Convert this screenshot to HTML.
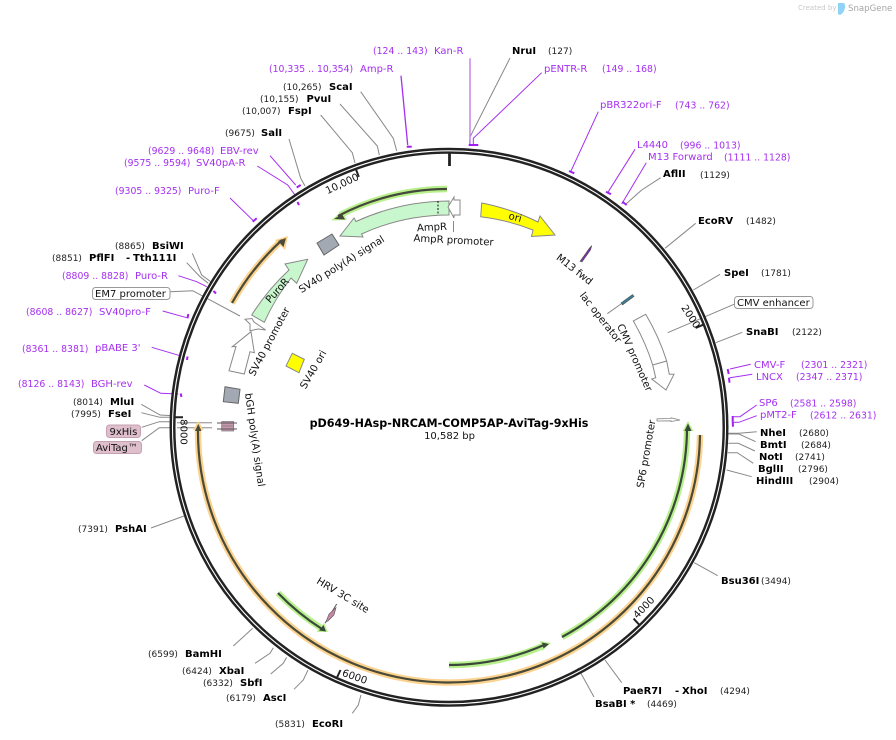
<!DOCTYPE html>
<html><head><meta charset="utf-8">
<style>
html,body{margin:0;padding:0;background:#fff;width:896px;height:740px;overflow:hidden}
svg{display:block;font-family:"DejaVu Sans",sans-serif}
.b{font-weight:bold;font-size:10px;fill:#000}
.n{font-size:9px;fill:#222}
.p{font-size:10px;fill:#a52ff0}
.r{font-size:9.3px;fill:#a52ff0}
.f{font-size:10px;fill:#111}
.c{text-anchor:middle;dominant-baseline:central;font-size:10.1px;fill:#111}
.g{fill:none;stroke:#888;stroke-width:1}
.v{fill:none;stroke:#a52ff0;stroke-width:1}
.vt{fill:none;stroke:#a020f0;stroke-width:2}
</style></head><body>
<svg width="896" height="740" viewBox="0 0 896 740" xmlns="http://www.w3.org/2000/svg">
<text x="798" y="10" font-size="7" fill="#c8c8c8">Created by</text>
<path d="M838 3h5c2 0 2 2 2 4c0 4-3 7-5 8l-2-1z" fill="#8fd3f7"/>
<text x="848" y="11" font-size="8.6" fill="#a5a5a5">SnapGene</text>

<!-- leaders grey -->
<g class="g">
<polyline points="510,58 470,137 469.5,145"/>
<polyline points="360.7,91.7 393.3,138.3 396.7,151"/>
<polyline points="340,104 377.3,146 379.3,155"/>
<polyline points="320.7,115 352.3,152.7 355,163"/>
<polyline points="289,139 300.7,178.3 305,186"/>
<polyline points="660.7,177.7 641.7,190 626,204"/>
<polyline points="695.7,223.3 665,248.3"/>
<polyline points="720,274.3 693.3,290"/>
<polyline points="734,304.3 667.7,332.7"/>
<polyline points="742.3,332.3 715.7,342.7"/>
<polyline points="756.7,431.7 739,433.3 728.3,433.3"/>
<polyline points="755.7,441.7 739,434 728.3,434"/>
<polyline points="755,451 738.3,443.3 728.3,443.3"/>
<polyline points="753.3,463.3 737.3,452.7 727.7,452.7"/>
<polyline points="751.7,476.7 726.7,470"/>
<polyline points="717.7,575.7 694.3,562.7"/>
<polyline points="621.7,682.7 605,660"/>
<polyline points="594,697 578,668"/>
<polyline points="352.3,713.3 358.3,705 361,695"/>
<polyline points="294,689.3 303.3,680 308,670"/>
<polyline points="270.7,674 283.3,663.3 286.7,657.3"/>
<polyline points="255,663.3 270,653.3 273.3,647.7"/>
<polyline points="233.3,646 252.7,628.3"/>
<polyline points="151,528 184,516"/>
<polyline points="192.3,253.3 201.7,275 210.7,281.7"/>
<polyline points="186.7,262.7 200,276.7 208.3,283.3"/>
<polyline points="170,291.7 192.7,290.7 240,316"/>
<polyline points="141.3,404.3 160,415 173.3,415.7"/>
<polyline points="141.3,412.7 160,417.3 175,417.3"/>
<polyline points="141.7,427.3 159.3,421.7 170,421.7"/>
<polyline points="141.7,440.7 159.3,427.7 170,427.7"/>
<line x1="177" y1="422.7" x2="212" y2="422.7" stroke="#aaa" stroke-width="1.4"/>
<line x1="177" y1="427.7" x2="212" y2="427.7" stroke="#aaa" stroke-width="1.4"/>
<polyline points="607.3,313.7 621,304"/>
<polyline points="336.7,604 325,623.3" stroke="#555"/>
<polyline points="591.7,245.7 580,261.7" stroke="#555"/>
<line x1="453.5" y1="221" x2="453.5" y2="232"/>
</g>

<!-- leaders purple -->
<g class="v">
<polyline points="470,58.3 470,145" stroke-width="1.4" stroke="#c37cf0"/>
<polyline points="541.7,72.7 473.3,138.3 473.3,145"/>
<polyline points="401,75.7 407.7,145" stroke-width="1.3"/>
<polyline points="270,155.7 295.7,185"/>
<polyline points="257.3,166 287.7,185 295,195"/>
<polyline points="230,198 253.3,220.7"/>
<polyline points="598.3,111.7 570.7,171.7"/>
<polyline points="635,149.3 607.7,192.7"/>
<polyline points="646.3,162.7 621.7,204"/>
<polyline points="750.7,364.3 730,369"/>
<polyline points="752.3,374.3 730,377.7"/>
<polyline points="756.7,405 740,416.7 733.3,416.7"/>
<polyline points="756.7,415.7 739,422.3 733.3,422.3"/>
<polyline points="178.3,275.7 196.7,281.7 206.7,286.7"/>
<polyline points="162.7,311 186.7,317.7"/>
<polyline points="151.7,347.3 180,355.7"/>
<polyline points="144.3,385 160.7,393.3 178.3,394"/>
</g>
<g class="vt">
<line x1="468.7" y1="145" x2="478.3" y2="145"/>
<line x1="406.7" y1="146.7" x2="411.7" y2="146.7"/>
<line x1="296.7" y1="187.5" x2="300.7" y2="185"/>
<line x1="297.5" y1="202" x2="299" y2="205"/>
<line x1="252.7" y1="221.7" x2="256.7" y2="218.3"/>
<line x1="569" y1="171" x2="574.3" y2="173.3"/>
<line x1="606" y1="191.7" x2="611" y2="194.3"/>
<line x1="622.3" y1="201.7" x2="626.7" y2="205"/>
<line x1="727.7" y1="369" x2="728.7" y2="374"/>
<line x1="729" y1="377.7" x2="729.5" y2="382.7"/>
<line x1="732.7" y1="416" x2="732.7" y2="421.7"/>
<line x1="732.7" y1="421.7" x2="733" y2="426.7"/>
<line x1="213.5" y1="291" x2="216" y2="293.5"/>
<line x1="188.3" y1="314" x2="187.5" y2="318.3"/>
<line x1="187.5" y1="356.5" x2="187" y2="360"/>
<line x1="180.7" y1="393.5" x2="181.5" y2="397"/>
</g>

<!-- backbone -->
<circle cx="449" cy="427.3" r="276.5" fill="none" stroke="#222" stroke-width="6"/>
<circle cx="449" cy="427.3" r="276.5" fill="none" stroke="#fff" stroke-width="1.1"/>
<g stroke="#222" stroke-width="2" fill="none">
<line x1="449.5" y1="153" x2="449.5" y2="166" stroke-width="2.8"/>
<line x1="703" y1="324.8" x2="695.6" y2="327.9"/>
<line x1="639" y1="624.5" x2="633.6" y2="618.6"/>
<line x1="337" y1="677.5" x2="340.5" y2="670"/>
<line x1="175" y1="417.2" x2="183" y2="417.3"/>
<line x1="356" y1="169.5" x2="358.8" y2="176.9"/>
</g>
<text class="c" transform="translate(342.5,184.5) rotate(-25)">10,000</text>
<text class="c" transform="translate(690,317) rotate(57)">2000</text>
<text class="c" transform="translate(644.5,608) rotate(-46)">4000</text>
<text class="c" transform="translate(354.5,677.5) rotate(19)">6000</text>
<text class="c" transform="translate(183,432) rotate(90)">8000</text>

<!-- arcs -->
<g fill="none" stroke-linecap="butt">
<path d="M700 435A251 251 0 1 1 198 428" stroke="#fbd28e" stroke-width="6.4"/>
<path d="M232 303A251 251 0 0 1 281 241" stroke="#fbd28e" stroke-width="6.4"/>
<path d="M447 189A238 238 0 0 0 340 215" stroke="#b8f08c" stroke-width="6.4"/>
<path d="M562 637A238 238 0 0 0 687 429" stroke="#b8f08c" stroke-width="6.4"/>
<path d="M449 665A238 238 0 0 0 543 646" stroke="#b8f08c" stroke-width="6.4"/>
<path d="M278 593A238 238 0 0 0 321 628" stroke="#b8f08c" stroke-width="6.4"/>
</g>
<polygon points="198.3,421 193,430 203.5,430" fill="#fbd28e"/>
<polygon points="288,236 275,240 285,250" fill="#fbd28e"/>
<polygon points="331,220.5 342,211 347,220" fill="#b8f08c"/>
<polygon points="688,421 682.5,431 693.5,431" fill="#b8f08c"/>
<polygon points="551,643 540,641 542,651" fill="#b8f08c"/>
<polygon points="328,632 316.5,632 324,623" fill="#b8f08c"/>
<g fill="none" stroke="#4a4a38" stroke-width="2.2">
<path d="M700 435A251 251 0 1 1 198 428"/>
<path d="M232 303A251 251 0 0 1 282 240"/>
<path d="M447 189A238 238 0 0 0 338 216" stroke="#44483a"/>
<path d="M562 637A238 238 0 0 0 687 428" stroke="#39483a"/>
<path d="M449 665A238 238 0 0 0 544 645" stroke="#39483a"/>
<path d="M278 593A238 238 0 0 0 322 629" stroke="#39483a"/>
</g>
<g>
<polygon points="198.3,424 195,431 201.5,431" fill="#4a4a38"/>
<polygon points="286,238 278,241 283.5,247" fill="#4a4a38"/>
<polygon points="334,219 342,214 345,219.5" fill="#44483a"/>
<polygon points="688,423.5 684.5,431 691.5,431" fill="#39483a"/>
<polygon points="549,644 542,642.5 543.5,648.5" fill="#39483a"/>
<polygon points="326,631.5 319,630.5 323.5,625" fill="#39483a"/>
</g>

<!-- features -->
<path d="M449 201A226 226 0 0 0 356 221.5L354 218L340 236L363 237L361.5 234A212 212 0 0 1 449 215Z" fill="#c9f7cd" stroke="#888"/>
<line x1="438" y1="201" x2="438" y2="215" stroke="#111" stroke-dasharray="2 1.5"/>
<polygon points="448,207 454,197 454,200 460,200 460,215 454,215 454,218" fill="#fff" stroke="#888"/>
<path d="M481.7 203A226 226 0 0 1 538 222L540 216L555 235L531.5 236.5L533 230A212 212 0 0 0 480.7 216.7Z" fill="#ff0" stroke="#888"/>
<polygon points="317,243 332,234 339,245 324,255" fill="#a2a9b2" stroke="#666"/>
<polygon points="292.3,353.3 304.3,359.3 299,372.7 286,366" fill="#ff0" stroke="#888"/>
<polygon points="225,386.7 240,389.3 238.3,403.3 223.3,401.7" fill="#a2a9b2" stroke="#666"/>
<path d="M251.7 315A226 226 0 0 1 289 270L285 264L307.7 259.3L296.7 283.3L291 278A212 212 0 0 0 264.3 322.3Z" fill="#c9f7cd" stroke="#888"/>
<polygon points="229,370.7 244.3,374 250,351.7 254.3,352.7 251,331.7 232.3,346.7 236,346.5" fill="#fff" stroke="#888"/>
<polygon points="245,319.3 252,318.5 254,322 265.7,330 258,329 250,330.7 250,324" fill="#fff" stroke="#888"/>
<path d="M633.3 321L645.7 314.3A226 226 0 0 1 666.7 361L669.3 374.3L674 374.3L666 390L651.7 379L655.7 377.7L652.7 365A212 212 0 0 0 633.3 321Z" fill="#fff" stroke="#888"/>
<line x1="652.7" y1="365" x2="666.7" y2="361" stroke="#888"/>
<polygon points="657,418.8 671,418.5 671,417.8 680,420 671,421.5 671,420.8 657,421" fill="#fff" stroke="#888" stroke-width=".8"/>
<polygon points="580.5,261 589.5,248 591.5,246.5 590.5,250 582,262" fill="#7b2eb0" stroke="#555" stroke-width=".6"/>
<polygon points="621,303 632.5,294.5 634,296.5 622.5,305" fill="#3a7b94" stroke="#555" stroke-width=".6"/>
<polygon points="326,621.7 329,614 336,607.7 334,615 328,621" fill="#c586a6" stroke="#555" stroke-width=".6"/>
<rect x="221.7" y="421.5" width="12" height="5" fill="#c997ae" stroke="#777" stroke-width=".7"/>
<rect x="221.7" y="426" width="12" height="5" fill="#c997ae" stroke="#777" stroke-width=".7"/>
<line x1="217" y1="423" x2="237" y2="423" stroke="#555"/>
<line x1="217" y1="429" x2="237" y2="429" stroke="#555"/>

<!-- pills -->
<rect x="92.5" y="287.5" width="77.5" height="12" rx="3" fill="#fff" stroke="#999"/>
<rect x="734.5" y="296.5" width="78.5" height="12" rx="3" fill="#fff" stroke="#999"/>
<rect x="106.5" y="425" width="34" height="12.5" rx="3" fill="#dfbfcc" stroke="#c6a0b2"/>
<rect x="93.5" y="441.5" width="48" height="12" rx="3" fill="#dfbfcc" stroke="#c6a0b2"/>

<!-- labels -->
<text class="r" x="373" y="54">(124 .. 143)</text><text class="p" x="434" y="54">Kan-R</text>
<text class="b" x="512" y="54">NruI</text><text class="n" x="548" y="54">(127)</text>
<text class="r" x="269" y="72">(10,335 .. 10,354)</text><text class="p" x="360" y="72">Amp-R</text>
<text class="p" x="544" y="72">pENTR-R</text><text class="r" x="602" y="72">(149 .. 168)</text>
<text class="n" x="283" y="90">(10,265)</text><text class="b" x="329" y="90">ScaI</text>
<text class="n" x="260" y="102">(10,155)</text><text class="b" x="306.5" y="102">PvuI</text>
<text class="n" x="242" y="114">(10,007)</text><text class="b" x="288" y="114">FspI</text>
<text class="p" x="600" y="108">pBR322ori-F</text><text class="r" x="675" y="108.5">(743 .. 762)</text>
<text class="n" x="225" y="136">(9675)</text><text class="b" x="261" y="136">SalI</text>
<text class="p" x="637" y="148">L4440</text><text class="r" x="680" y="148.5">(996 .. 1013)</text>
<text class="p" x="648" y="160">M13 Forward</text><text class="r" x="724" y="160.5">(1111 .. 1128)</text>
<text class="r" x="148" y="154">(9629 .. 9648)</text><text class="p" x="220" y="154">EBV-rev</text>
<text class="r" x="124" y="166">(9575 .. 9594)</text><text class="p" x="196" y="166">SV40pA-R</text>
<text class="b" x="663" y="177">AflII</text><text class="n" x="700" y="178">(1129)</text>
<text class="r" x="115" y="194">(9305 .. 9325)</text><text class="p" x="188" y="194">Puro-F</text>
<text class="b" x="698" y="224">EcoRV</text><text class="n" x="746" y="224">(1482)</text>
<text class="n" x="115" y="249">(8865)</text><text class="b" x="152" y="249">BsiWI</text>
<text class="n" x="52" y="261">(8851)</text><text class="b" x="89" y="261">PflFI</text><text class="b" x="126" y="261">-</text><text class="b" x="133" y="261">Tth111I</text>
<text class="r" x="62" y="279">(8809 .. 8828)</text><text class="p" x="135" y="279">Puro-R</text>
<text class="f" x="95" y="297">EM7 promoter</text>
<text class="b" x="724" y="276">SpeI</text><text class="n" x="761" y="276">(1781)</text>
<text class="f" x="737" y="306">CMV enhancer</text>
<text class="r" x="26" y="315">(8608 .. 8627)</text><text class="p" x="99" y="315">SV40pro-F</text>
<text class="b" x="746" y="335">SnaBI</text><text class="n" x="792" y="335">(2122)</text>
<text class="r" x="22" y="352">(8361 .. 8381)</text><text class="p" x="95" y="351">pBABE 3'</text>
<text class="p" x="754" y="368">CMV-F</text><text class="r" x="801" y="368">(2301 .. 2321)</text>
<text class="p" x="756" y="380">LNCX</text><text class="r" x="796" y="380">(2347 .. 2371)</text>
<text class="r" x="18" y="387">(8126 .. 8143)</text><text class="p" x="91" y="387">BGH-rev</text>
<text class="n" x="73" y="405">(8014)</text><text class="b" x="110" y="405">MluI</text>
<text class="n" x="71" y="417">(7995)</text><text class="b" x="108" y="417">FseI</text>
<text class="p" x="759" y="406">SP6</text><text class="r" x="790" y="406.5">(2581 .. 2598)</text>
<text class="p" x="760" y="418">pMT2-F</text><text class="r" x="810" y="418.5">(2612 .. 2631)</text>
<text class="b" x="760" y="436">NheI</text><text class="n" x="799" y="436">(2680)</text>
<text class="b" x="760" y="448">BmtI</text><text class="n" x="801" y="448">(2684)</text>
<text class="b" x="759" y="460">NotI</text><text class="n" x="795" y="460">(2741)</text>
<text class="b" x="758" y="472">BglII</text><text class="n" x="798" y="472">(2796)</text>
<text class="b" x="756" y="484">HindIII</text><text class="n" x="809" y="484">(2904)</text>
<text class="f" x="109.5" y="435">9xHis</text>
<text class="f" x="96" y="451">AviTag™</text>
<text class="n" x="78" y="532">(7391)</text><text class="b" x="115" y="532">PshAI</text>
<text class="b" x="721" y="584">Bsu36I</text><text class="n" x="761" y="584">(3494)</text>
<text class="n" x="148" y="657">(6599)</text><text class="b" x="185" y="657">BamHI</text>
<text class="n" x="182" y="674">(6424)</text><text class="b" x="219" y="674">XbaI</text>
<text class="n" x="203" y="686">(6332)</text><text class="b" x="240" y="686">SbfI</text>
<text class="n" x="226" y="701">(6179)</text><text class="b" x="263" y="701">AscI</text>
<text class="n" x="275" y="727">(5831)</text><text class="b" x="312" y="727">EcoRI</text>
<text class="b" x="623" y="694">PaeR7I</text><text class="b" x="675" y="694">-</text><text class="b" x="682" y="694">XhoI</text><text class="n" x="720" y="694">(4294)</text>
<text class="b" x="595" y="707">BsaBI *</text><text class="n" x="647" y="707">(4469)</text>

<text class="c" transform="translate(515,218) rotate(15)">ori</text>
<text class="c" transform="translate(432,228) rotate(-3)">AmpR</text>
<text class="c" transform="translate(453.5,241) rotate(3)">AmpR promoter</text>
<text class="c" transform="translate(342,265) rotate(-32)">SV40 poly(A) signal</text>
<text class="c" transform="translate(278,291) rotate(-48)">PuroR</text>
<text class="c" transform="translate(270,342) rotate(-62)">SV40 promoter</text>
<text class="c" transform="translate(314,370) rotate(-60)">SV40 ori</text>
<text class="c" transform="translate(254,440) rotate(82)">bGH poly(A) signal</text>
<text class="c" transform="translate(574,270) rotate(38)">M13 fwd</text>
<text class="c" transform="translate(600,318) rotate(52)">lac operator</text>
<text class="c" transform="translate(634,358) rotate(66)">CMV promoter</text>
<text class="c" transform="translate(647,454) rotate(-80)">SP6 promoter</text>
<text class="c" transform="translate(342.5,596) rotate(31)">HRV 3C site</text>

<text x="449" y="427" text-anchor="middle" font-size="11.15" font-weight="bold" fill="#000">pD649-HAsp-NRCAM-COMP5AP-AviTag-9xHis</text>
<text x="449.5" y="439" text-anchor="middle" font-size="10" fill="#111">10,582 bp</text>
</svg>
</body></html>
